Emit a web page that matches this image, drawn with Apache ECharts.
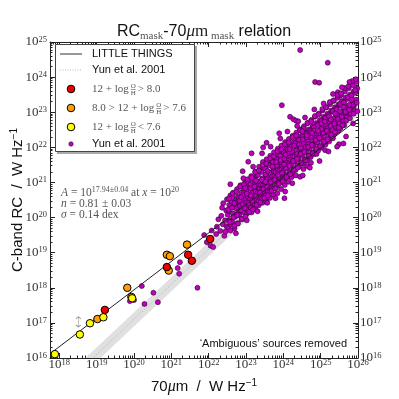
<!DOCTYPE html>
<html>
<head>
<meta charset="utf-8">
<script src="https://cdn.jsdelivr.net/npm/echarts@6/dist/echarts.min.js"></script>
<style>
html, body { margin: 0; padding: 0; background: #fff; }
#chart { width: 399px; height: 399px; }
</style>
</head>
<body>
<div id="chart"></div>
<script>
// all values are log10 of W Hz^-1
var xMin = 17.75, xMax = 26, yMin = 16, yMax = 25;
var xTickExp = [18, 19, 20, 21, 22, 23, 24, 25, 26];
var yTickExp = [16, 17, 18, 19, 20, 21, 22, 23, 24, 25];

// LITTLE THINGS, split by metallicity
var ltHighZ = [[19.22, 17.37], [20.88, 18.59], [21.45, 18.94], [21.55, 18.77], [22.04, 19.39]];
var ltMidZ = [[19.02, 17.11], [19.82, 18.00], [19.93, 17.74], [20.88, 18.94], [20.96, 18.90], [20.93, 18.49], [21.42, 19.23]];
var ltLowZ = [[17.88, 16.11], [18.55, 16.67], [18.82, 16.99], [19.18, 17.16], [19.95, 17.70]];
var upperLimit = [[18.51, 17.03]];

// fitted relation and Yun et al. 2001 relation with its band
var fitLineX = [17.75, 26.0];
var fitLineY = [16.12, 22.80];
var yunLineX = [18.4, 26.0];
var yunLineY = [15.5, 23.1];
var yunBandLow = [15.3, 22.9];
var yunBandHigh = [15.7, 23.3];

// Yun et al. 2001 galaxies
var yunPoints = [
  [20.21,18.05],[19.89,17.62],[20.00,17.65],[20.28,17.54],[20.52,17.86],[20.64,17.59],
  [21.17,18.56],[21.23,18.73],[21.21,18.40],[21.70,18.00],[21.88,19.50],[21.95,19.30],
  [22.05,19.20],[22.12,19.16],[22.08,19.63],[22.22,19.74],[22.26,19.95],[22.20,19.53],
  [22.31,19.62],[22.34,20.05],[22.38,19.81],[22.39,20.41],[22.42,19.48],[22.36,20.28],
  [22.44,19.92],[22.47,20.20],[22.45,19.60],[22.49,20.52],[22.48,19.75],
  [22.51,20.08],[22.53,19.71],[22.55,20.36],[22.57,19.92],[22.58,20.63],[22.54,20.19],[22.59,19.80],
  [22.61,20.45],[22.63,19.88],[22.65,20.12],[22.66,20.71],[22.68,20.30],[22.69,19.69],[22.64,20.57],
  [22.71,20.02],[22.72,20.48],[22.74,20.26],[22.76,20.81],[22.77,19.84],[22.78,20.60],[22.79,20.15],[22.75,20.38],
  [22.81,20.55],[22.82,20.07],[22.84,20.33],[22.85,20.92],[22.87,20.20],[22.88,20.71],[22.89,19.95],[22.86,20.46],
  [22.91,20.38],[22.92,20.83],[22.93,21.12],[22.94,20.15],[22.96,20.60],[22.97,20.99],[22.98,20.27],[22.99,20.51],[22.95,20.72],
  [23.01,20.43],[23.02,20.78],[23.03,20.12],[23.04,21.02],[23.05,20.59],[23.06,21.59],[23.07,20.31],[23.08,20.88],[23.09,20.66],[23.05,20.22],
  [23.11,20.52],[23.12,20.95],[23.13,20.27],[23.14,21.18],[23.15,21.83],[23.16,20.70],[23.17,20.40],[23.18,21.05],[23.19,20.83],[23.15,20.15],
  [23.21,20.61],[23.22,21.10],[23.23,20.38],[23.24,20.92],[23.25,21.31],[23.26,20.74],[23.27,20.49],[23.28,21.20],[23.29,20.86],[23.24,20.25],
  [23.31,20.70],[23.32,21.21],[23.33,20.46],[23.34,21.02],[23.35,21.45],[23.36,20.82],[23.37,20.58],[23.38,21.33],[23.39,20.95],[23.34,20.35],
  [23.41,20.79],[23.42,21.30],[23.43,20.55],[23.44,21.12],[23.45,21.58],[23.46,20.92],[23.47,20.67],[23.48,21.42],[23.49,21.03],[23.46,22.00],[23.44,20.42],
  [23.51,20.88],[23.52,21.40],[23.53,20.64],[23.54,21.20],[23.55,22.13],[23.55,21.66],[23.56,21.01],[23.57,20.76],[23.58,21.52],[23.59,21.12],[23.54,20.47],
  [23.61,20.97],[23.62,21.49],[23.63,20.73],[23.64,21.29],[23.65,21.76],[23.66,21.10],[23.67,20.85],[23.68,21.61],[23.69,21.20],[23.64,20.56],
  [23.71,21.06],[23.72,21.58],[23.73,20.82],[23.74,21.38],[23.75,21.86],[23.76,21.19],[23.77,20.94],[23.78,21.70],[23.79,21.29],[23.74,20.65],
  [23.81,21.15],[23.82,21.67],[23.83,20.91],[23.84,20.69],[23.85,21.96],[23.86,21.28],[23.87,21.03],[23.88,21.79],[23.89,21.38],[23.89,22.40],[23.84,21.47],
  [23.91,21.24],[23.92,21.76],[23.93,21.00],[23.94,21.56],[23.95,22.05],[23.96,21.37],[23.96,23.20],[23.97,21.12],[23.98,21.88],[23.99,21.47],[23.94,20.81],
  [24.01,21.33],[24.02,21.85],[24.03,21.09],[24.04,21.65],[24.05,20.74],[24.05,22.15],[24.06,21.46],[24.07,21.21],[24.08,21.97],[24.09,21.56],[24.04,20.93],
  [24.11,21.42],[24.12,21.94],[24.13,21.18],[24.14,21.74],[24.15,22.24],[24.16,21.55],[24.17,21.30],[24.18,22.06],[24.18,22.87],[24.19,21.65],[24.14,21.02],
  [24.21,21.51],[24.22,21.15],[24.22,22.03],[24.23,21.27],[24.24,21.83],[24.25,22.33],[24.26,21.64],[24.27,22.80],[24.27,21.39],[24.28,22.15],[24.29,21.74],
  [24.31,21.60],[24.32,22.12],[24.33,21.36],[24.34,22.76],[24.34,21.92],[24.35,22.42],[24.36,21.73],[24.37,21.48],[24.38,22.24],[24.39,21.83],[24.34,21.20],
  [24.40,22.74],[24.41,21.69],[24.42,22.21],[24.43,21.45],[24.44,22.01],[24.45,21.16],[24.45,22.51],[24.46,21.82],[24.47,21.57],[24.48,22.33],[24.49,21.92],
  [24.51,21.78],[24.52,22.30],[24.53,21.54],[24.54,22.10],[24.55,22.60],[24.56,21.91],[24.57,21.66],[24.58,22.42],[24.59,22.01],[24.54,21.38],
  [24.61,21.87],[24.62,22.39],[24.63,21.63],[24.64,22.19],[24.65,22.69],[24.66,22.00],[24.67,21.75],[24.68,22.51],[24.69,22.10],[24.64,21.47],
  [24.71,21.96],[24.72,22.48],[24.73,21.72],[24.74,22.28],[24.75,22.78],[24.76,22.09],[24.77,21.84],[24.78,22.60],[24.79,22.19],[24.74,21.56],
  [24.81,22.05],[24.82,22.57],[24.83,21.81],[24.84,22.37],[24.85,23.86],[24.85,22.87],[24.86,22.18],[24.87,21.93],[24.88,22.69],[24.89,21.81],[24.89,22.28],
  [24.91,22.14],[24.92,22.66],[24.93,21.90],[24.94,22.46],[24.95,22.96],[24.96,23.84],[24.96,22.27],[24.97,22.02],[24.98,22.78],[24.99,22.37],
  [25.01,22.23],[25.02,22.75],[25.03,21.99],[25.04,22.55],[25.05,23.05],[25.06,22.36],[25.07,22.11],[25.08,22.87],[25.09,22.46],
  [25.11,22.32],[25.12,21.92],[25.12,22.84],[25.13,22.08],[25.14,22.64],[25.15,23.14],[25.16,22.45],[25.17,22.20],[25.18,22.96],[25.19,24.41],[25.19,22.55],
  [25.21,22.41],[25.22,22.93],[25.23,22.17],[25.24,22.73],[25.25,23.23],[25.26,22.54],[25.27,22.29],[25.28,23.05],[25.29,22.64],
  [25.31,22.50],[25.32,23.02],[25.33,22.26],[25.34,22.82],[25.35,23.32],[25.36,22.63],[25.37,22.38],[25.38,23.14],[25.39,22.73],
  [25.41,22.59],[25.42,23.11],[25.43,22.45],[25.44,22.91],[25.45,23.41],[25.46,23.57],[25.46,22.72],[25.47,22.47],[25.48,23.23],[25.49,22.09],[25.49,22.82],
  [25.51,22.68],[25.52,23.47],[25.52,23.20],[25.53,22.54],[25.54,23.00],[25.55,23.50],[25.56,22.81],[25.57,23.32],[25.58,22.91],
  [25.61,22.11],[25.61,22.77],[25.62,23.29],[25.63,22.63],[25.64,23.09],[25.65,23.59],[25.66,22.90],[25.67,23.41],[25.69,23.00],
  [25.71,22.86],[25.72,23.38],[25.74,23.18],[25.75,23.68],[25.76,22.99],[25.78,23.50],[25.79,23.09],
  [25.81,22.95],[25.83,23.47],[25.85,23.27],[25.86,23.77],[25.88,23.59],[25.89,23.18],
  [25.91,23.04],[25.93,23.56],[25.95,23.36],[25.96,23.86],[25.98,23.68],
  [24.45,24.77],
  [22.525,20.23],[22.545,20.54],[22.565,19.87],[22.585,19.63],
  [22.625,20.28],[22.645,20.69],[22.665,20.01],[22.685,19.76],
  [22.725,20.43],[22.745,20.74],[22.765,20.07],[22.785,19.83],
  [22.825,20.48],[22.845,20.89],[22.865,20.21],[22.885,19.96],
  [22.925,20.63],[22.945,20.94],[22.965,20.27],[22.985,20.03],
  [23.025,20.68],[23.045,21.09],[23.065,20.41],[23.085,20.16],
  [23.125,20.83],[23.145,21.14],[23.165,20.47],[23.185,20.23],
  [23.225,20.88],[23.245,21.29],[23.265,20.61],[23.285,20.36],
  [23.325,21.03],[23.345,21.34],[23.365,20.67],[23.385,20.43],
  [23.425,21.08],[23.445,21.49],[23.465,20.81],[23.485,20.56],
  [23.525,21.23],[23.545,21.54],[23.565,20.87],[23.585,20.63],
  [23.625,21.28],[23.645,21.69],[23.665,21.01],[23.685,20.76],
  [23.725,21.43],[23.745,21.74],[23.765,21.07],[23.785,20.83],
  [23.825,21.48],[23.845,21.89],[23.865,21.21],[23.885,20.96],
  [23.925,21.63],[23.945,21.94],[23.965,21.27],[23.985,21.03],
  [24.025,21.68],[24.045,22.09],[24.065,21.41],[24.085,21.16],
  [24.125,21.83],[24.145,22.14],[24.165,21.47],[24.185,21.23],
  [24.225,21.88],[24.245,22.29],[24.265,21.61],[24.285,21.36],
  [24.325,22.03],[24.345,22.34],[24.365,21.67],[24.385,21.43],
  [24.425,22.08],[24.445,22.49],[24.465,21.81],[24.485,21.56],
  [24.525,22.23],[24.545,22.54],[24.565,21.87],[24.585,21.63],
  [24.625,22.28],[24.645,22.69],[24.665,22.01],[24.685,21.76],
  [24.725,22.43],[24.745,22.74],[24.765,22.07],[24.785,21.83],
  [24.825,22.48],[24.845,22.89],[24.865,22.21],[24.885,21.96],
  [24.925,22.63],[24.945,22.94],[24.965,22.27],[24.985,22.03],
  [25.025,22.68],[25.045,23.09],[25.065,22.41],[25.085,22.16],
  [25.125,22.83],[25.145,23.14],[25.165,22.47],[25.185,22.23],
  [25.225,22.88],[25.245,23.29],[25.265,22.61],[25.285,22.36],
  [25.325,23.03],[25.345,23.34],[25.365,22.67],[25.385,22.43],
  [25.425,23.08],[25.445,23.49],[25.465,22.81],[25.485,22.56],
  [25.525,23.23],[25.545,23.54],[25.565,22.87],[25.585,22.63],
  [25.625,23.28],[25.645,23.69],[25.665,23.01],[25.685,22.76],
  [25.725,23.43],[25.745,23.74],[25.765,23.07],[25.785,22.83],
  [25.825,23.48],[25.845,23.89],[25.865,23.21],[25.885,22.96],
  [25.925,23.63],[25.945,23.94],[25.965,23.27],[25.985,23.03],
  [22.58,20.95],[22.73,19.55],[22.91,21.32],[23.02,19.92],[23.19,21.45],[23.31,20.18],[23.43,21.83],
  [23.57,20.42],[23.66,22.02],[23.79,20.55],[23.92,22.25],[24.03,20.55],[24.11,22.45],[24.24,20.98],
  [24.37,22.61],[24.52,21.20],[24.58,22.85],[24.71,21.42],[24.83,23.08],[24.97,21.61],[25.08,23.25],
  [25.21,21.88],[25.33,23.52],[25.44,22.02],[25.57,23.71],[25.68,22.31],[25.77,23.86],[25.87,22.68],
  [22.87,20.58],[23.13,20.63],[23.38,20.71],[23.58,21.33],[23.81,21.58],[24.06,21.79],[24.29,22.05],
  [24.51,22.46],[24.77,22.41],[25.02,22.52],[25.27,22.79],[25.52,23.03],[25.77,23.21],[23.27,21.05],
  [23.71,21.45],[24.17,21.95],[24.63,22.34],[25.11,22.73],[25.61,23.15],[22.69,20.41],[22.98,20.84],
  [23.52,21.02],[24.02,21.51],[24.47,21.98],[24.93,22.47],[25.39,22.96],[25.83,23.35]
];

var serif = '"Liberation Serif", "DejaVu Serif", serif';
var sans = '"Liberation Sans", Arial, sans-serif';

// log-spaced minor ticks
function minorTicks(lo, hi) {
  var out = [];
  for (var d = Math.floor(lo); d < hi; d++) {
    for (var k = 2; k <= 9; k++) {
      var v = d + Math.log10(k);
      if (v > lo && v < hi) out.push(v);
    }
  }
  return out;
}
var xMinor = minorTicks(xMin, xMax);
var yMinor = minorTicks(yMin, yMax);

var frameColor = '#222';
var labelRich = {
  b: { fontFamily: serif, fontSize: 13, lineHeight: 14, color: '#333' },
  s: { fontFamily: serif, fontSize: 8.5, lineHeight: 6, verticalAlign: 'top', color: '#333' }
};
function powLabel(v) { return '{b|10}{s|' + Math.round(v) + '}'; }

function makeAxis(pos, lo, hi, ticks, len, labels, margin) {
  return {
    type: 'value', position: pos, min: lo, max: hi,
    axisLine: { show: !!labels || len > 4, onZero: false, lineStyle: { color: frameColor, width: 1 } },
    axisTick: { show: true, inside: true, length: len, customValues: ticks, lineStyle: { color: frameColor, width: 1 } },
    axisLabel: labels ? { show: true, customValues: labels, formatter: powLabel, rich: labelRich, margin: margin } : { show: false },
    splitLine: { show: false }
  };
}

var myChart = echarts.init(document.getElementById('chart'), null, { renderer: 'canvas' });

// measure text for the legend math rows
var ctx = document.createElement('canvas').getContext('2d');
function tw(t, f) { ctx.font = f; return ctx.measureText(t).width; }
var mathFont = '11px ' + serif;
var fracFont = '7px ' + serif;
function mathRow(y, before, after) {
  var x0 = 92;
  var fx = x0 + tw(before, mathFont) + 2;
  var c = '#555';
  return [
    { type: 'text', z: 100, style: { text: before, x: x0, y: y, font: mathFont, fill: c, verticalAlign: 'middle' } },
    { type: 'text', z: 100, style: { text: 'O', x: fx + 2.5, y: y - 3, font: fracFont, fill: c, align: 'center', verticalAlign: 'middle' } },
    { type: 'line', z: 100, shape: { x1: fx, y1: y + 0.5, x2: fx + 5, y2: y + 0.5 }, style: { stroke: c, lineWidth: 0.6 } },
    { type: 'text', z: 100, style: { text: 'H', x: fx + 2.5, y: y + 4.5, font: fracFont, fill: c, align: 'center', verticalAlign: 'middle' } },
    { type: 'text', z: 100, style: { text: after, x: fx + 7, y: y, font: mathFont, fill: c, verticalAlign: 'middle' } }
  ];
}

var graphics = [
  // title
  { type: 'text', z: 100, style: {
      text: '{a|RC}{sb|mask}{a|-70}{mu|μ}{rm|m}{sb| mask}{a| relation}',
      x: 204, y: 22, align: 'center', verticalAlign: 'top',
      rich: {
        a: { fontFamily: sans, fontSize: 16, lineHeight: 20, fill: '#111' },
        sb: { fontFamily: serif, fontSize: 11, lineHeight: 14, verticalAlign: 'bottom', fill: '#555' },
        mu: { fontFamily: serif, fontStyle: 'italic', fontSize: 17, lineHeight: 20, fill: '#222' },
        rm: { fontFamily: serif, fontSize: 17, lineHeight: 20, fill: '#222' }
      } } },
  // axis names
  { type: 'text', z: 100, x: 18, y: 200, rotation: Math.PI / 2, style: {
      text: '{a|C-band RC  /  W Hz}{s|−1}', x: 0, y: 0, align: 'center', verticalAlign: 'middle',
      rich: {
        a: { fontFamily: sans, fontSize: 15, lineHeight: 18, fill: '#111' },
        s: { fontFamily: sans, fontSize: 10, lineHeight: 10, verticalAlign: 'top', fill: '#111' }
      } } },
  { type: 'text', z: 100, style: {
      text: '{a|70}{mu|μ}{a|m  /  W Hz}{s|−1}', x: 204, y: 387, align: 'center', verticalAlign: 'middle',
      rich: {
        a: { fontFamily: sans, fontSize: 15, lineHeight: 18, fill: '#111' },
        mu: { fontFamily: serif, fontStyle: 'italic', fontSize: 16, lineHeight: 18, fill: '#111' },
        s: { fontFamily: sans, fontSize: 10, lineHeight: 10, verticalAlign: 'top', fill: '#111' }
      } } },
  // legend box with shadow
  { type: 'rect', z: 99, shape: { x: 57, y: 46, width: 140, height: 108 }, style: { fill: '#aaa' } },
  { type: 'rect', z: 99, shape: { x: 55.5, y: 44.5, width: 139, height: 107 }, style: { fill: '#fff', stroke: '#444', lineWidth: 1 } },
  { type: 'line', z: 100, shape: { x1: 60, y1: 54, x2: 82, y2: 54 }, style: { stroke: '#333', lineWidth: 1 } },
  { type: 'text', z: 100, style: { text: 'LITTLE THINGS', x: 92, y: 54, font: '11px ' + sans, fill: '#111', verticalAlign: 'middle' } },
  { type: 'line', z: 100, shape: { x1: 60, y1: 70, x2: 82, y2: 70 }, style: { stroke: '#bbb', lineWidth: 1, lineDash: [1, 1.5] } },
  { type: 'text', z: 100, style: { text: 'Yun et al. 2001', x: 92, y: 70, font: '11px ' + sans, fill: '#111', verticalAlign: 'middle' } },
  { type: 'circle', z: 100, shape: { cx: 71, cy: 89, r: 3.8 }, style: { fill: '#f00000', stroke: '#000', lineWidth: 1 } },
  { type: 'circle', z: 100, shape: { cx: 71, cy: 108, r: 3.8 }, style: { fill: '#ff9f00', stroke: '#000', lineWidth: 1 } },
  { type: 'circle', z: 100, shape: { cx: 71, cy: 127, r: 3.8 }, style: { fill: '#ffff00', stroke: '#000', lineWidth: 1 } },
  { type: 'circle', z: 100, shape: { cx: 71, cy: 144, r: 2.2 }, style: { fill: '#bf00bf', stroke: '#300030', lineWidth: 0.6 } },
  { type: 'text', z: 100, style: { text: 'Yun et al. 2001', x: 92, y: 144, font: '11px ' + sans, fill: '#111', verticalAlign: 'middle' } },
  // fit annotation
  { type: 'text', z: 100, style: {
      text: '{i|A}{t| = 10}{s|17.94±0.04}{t| at }{i|x}{t| = 10}{s|20}', x: 61, y: 193, verticalAlign: 'middle',
      rich: {
        t: { fontFamily: serif, fontSize: 11.5, lineHeight: 14, fill: '#555' },
        i: { fontFamily: serif, fontStyle: 'italic', fontSize: 11.5, lineHeight: 14, fill: '#555' },
        s: { fontFamily: serif, fontSize: 8, lineHeight: 7, verticalAlign: 'top', fill: '#555' }
      } } },
  { type: 'text', z: 100, style: {
      text: '{i|n}{t| = 0.81 ± 0.03}', x: 61, y: 204, verticalAlign: 'middle',
      rich: {
        t: { fontFamily: serif, fontSize: 11.5, fill: '#555' },
        i: { fontFamily: serif, fontStyle: 'italic', fontSize: 11.5, fill: '#555' }
      } } },
  { type: 'text', z: 100, style: {
      text: '{i|σ}{t| = 0.14 dex}', x: 61, y: 215, verticalAlign: 'middle',
      rich: {
        t: { fontFamily: serif, fontSize: 11.5, fill: '#555' },
        i: { fontFamily: serif, fontStyle: 'italic', fontSize: 11.5, fill: '#555' }
      } } },
  { type: 'text', z: 100, style: { text: '\u2018Ambiguous\u2019 sources removed', x: 347, y: 344, font: '11px ' + sans, fill: '#111', align: 'right', verticalAlign: 'middle' } }
];
graphics = graphics.concat(mathRow(89, '12 + log', '> 8.0'));
graphics = graphics.concat(mathRow(108, '8.0 > 12 + log', '> 7.6'));
graphics = graphics.concat(mathRow(127, '12 + log', '< 7.6'));

function pairs(xs, ys) { return xs.map(function (x, i) { return [x, ys[i]]; }); }

function ltSeries(name, data, color) {
  return {
    name: name, type: 'scatter', data: data, symbolSize: 7.5, z: 6,
    itemStyle: { color: color, borderColor: '#000', borderWidth: 1, opacity: 1 }
  };
}

var option = {
  animation: false,
  backgroundColor: '#fff',
  grid: { left: 50, right: 41, top: 42, bottom: 41, containLabel: false },
  xAxis: [
    makeAxis('bottom', xMin, xMax, xTickExp, 5, xTickExp, 0),
    makeAxis('bottom', xMin, xMax, xMinor, 2.5, null),
    makeAxis('top', xMin, xMax, xTickExp, 5, null),
    makeAxis('top', xMin, xMax, xMinor, 2.5, null)
  ],
  yAxis: [
    makeAxis('left', yMin, yMax, yTickExp, 5, yTickExp, 3),
    makeAxis('left', yMin, yMax, yMinor, 2.5, null),
    makeAxis('right', yMin, yMax, yTickExp, 5, yTickExp, 2),
    makeAxis('right', yMin, yMax, yMinor, 2.5, null)
  ],
  graphic: graphics,
  series: [
    {
      name: 'Yun band', type: 'custom', silent: true, z: 1,
      data: [[yunLineX[0], yunLineY[0]]],
      renderItem: function (params, api) {
        var pts = [];
        for (var i = 0; i < yunLineX.length; i++) pts.push(api.coord([yunLineX[i], yunBandLow[i]]));
        for (var j = yunLineX.length - 1; j >= 0; j--) pts.push(api.coord([yunLineX[j], yunBandHigh[j]]));
        var cs = params.coordSys;
        return {
          type: 'polygon', shape: { points: pts }, style: { fill: '#e0e0e0' },
          clipPath: { type: 'rect', shape: { x: cs.x, y: cs.y, width: cs.width, height: cs.height } }
        };
      }
    },
    {
      name: 'Yun et al. 2001 relation', type: 'line', data: pairs(yunLineX, yunLineY),
      symbol: 'none', lineStyle: { color: '#b0b0b0', width: 1, type: [1, 2] }, silent: true, z: 2
    },
    {
      name: 'Yun et al. 2001', type: 'scatter', data: yunPoints, symbolSize: 5, z: 3,
      itemStyle: { color: '#bf00bf', borderColor: '#2a002a', borderWidth: 0.6, opacity: 1 }
    },
    {
      name: 'LITTLE THINGS fit', type: 'line', data: pairs(fitLineX, fitLineY),
      symbol: 'none', lineStyle: { color: '#222', width: 1 }, silent: true, z: 4
    },
    {
      name: 'upper limit', type: 'scatter', data: upperLimit, z: 5,
      symbol: 'path://M0,3 L3,0 L6,3 M3,0 L3,16 M0,13 L3,16 L6,13', symbolSize: [5, 10],
      itemStyle: { color: 'rgba(0,0,0,0)', borderColor: '#777', borderWidth: 0.8 }
    },
    ltSeries('8.0 > 12+log(O/H) > 7.6', ltMidZ, '#ff9f00'),
    ltSeries('12+log(O/H) > 8.0', ltHighZ, '#f00000'),
    ltSeries('12+log(O/H) < 7.6', ltLowZ, '#ffff00')
  ]
};
myChart.setOption(option);
</script>
</body>
</html>
